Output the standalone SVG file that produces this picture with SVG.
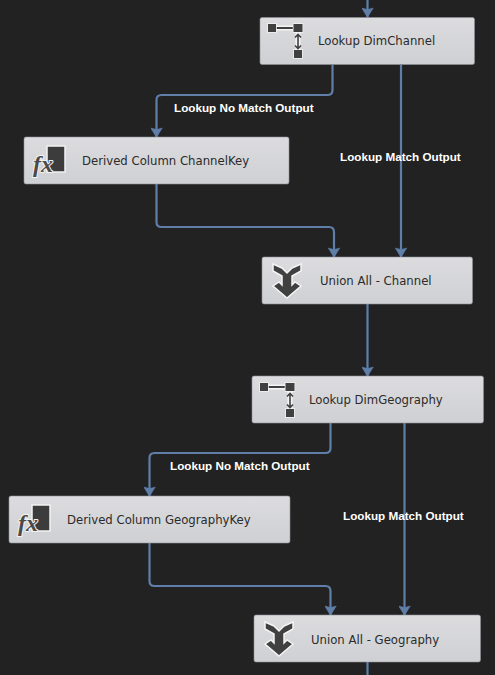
<svg xmlns="http://www.w3.org/2000/svg" xmlns:xlink="http://www.w3.org/1999/xlink" width="495" height="675" viewBox="0 0 495 675">
<style>
.box{fill:url(#g);stroke:#8f9298;stroke-width:.6}
.t{font:11.7px "DejaVu Sans",sans-serif;fill:#2b2b2b}
.l{font:bold 11.7px "Liberation Sans",sans-serif;fill:#fff}
.c{fill:none;stroke:#5f7ea8;stroke-width:2.200}
.i{fill:#404040;stroke:#f4f4f4;stroke-width:1.500;paint-order:stroke}
</style>
<defs>
<linearGradient id="g" x1="0" y1="0" x2="0" y2="1"><stop offset="0" stop-color="#dcdcdf"/><stop offset="1" stop-color="#cfd0d3"/></linearGradient>
<marker id="ad" markerUnits="userSpaceOnUse" markerWidth="12" markerHeight="12" refX="11" refY="6" orient="auto" viewBox="0 0 12 12"><path d="M2 .2 L11.500 6 L2 11.800 L3.500 6 Z" fill="#5f7ea8" stroke="#5f7ea8" stroke-width=".5"/></marker>
<g id="lk">
<path d="M5 7H31M31 7V37M27.500 33H34.500" fill="none" stroke="#f4f4f4" stroke-width="5"/>
<path d="M5 7H31" stroke="#404040" stroke-width="2"/>
<rect x="1" y="3" width="8" height="8" class="i"/><rect x="26.500" y="3" width="9" height="8" class="i"/><rect x="27" y="29" width="8" height="8" class="i"/>
<path d="M31 14V27M28 16.500L31 13.500L34 16.500M28 24.500L31 27.500L34 24.500" fill="none" stroke="#404040" stroke-width="1.600"/>
</g>
<g id="fx">
<rect x="23" y="9" width="18" height="26" fill="#3c3c3c" stroke="#f2f2f2" stroke-width="1.500"/>
<text x="9" y="35" font-family="Liberation Serif,serif" font-style="italic" font-weight="bold" font-size="24" fill="#4a4a4a" stroke="#f2f2f2" stroke-width="2" paint-order="stroke">fx</text>
</g>
<g id="un">
<path d="M1 2L10 6L15 11L20 6L29 2V9L20 14V23L23 20L29 24L15 36L1 24L7 20L10 23V14L1 9Z" fill="#404040" stroke="#f4f4f4" stroke-width="1.500"/>
</g>
</defs>
<rect width="495" height="675" fill="#222222"/>
<g id="connectors">
<path class="c" d="M367.500 0V17" marker-end="url(#ad)"/>
<path class="c" d="M332.500 65V90Q332.500 95 327.500 95H161.500Q156.500 95 156.500 100V137" marker-end="url(#ad)"/>
<path class="c" d="M401 65V257" marker-end="url(#ad)"/>
<path class="c" d="M156.500 184V222Q156.500 227 161.500 227H329Q334 227 334 232V257" marker-end="url(#ad)"/>
<path class="c" d="M367.500 304V376" marker-end="url(#ad)"/>
<path class="c" d="M330.500 423V448Q330.500 453 325.500 453H154.500Q149.500 453 149.500 458V496" marker-end="url(#ad)"/>
<path class="c" d="M404.500 423V615" marker-end="url(#ad)"/>
<path class="c" d="M149.500 543V581Q149.500 586 154.500 586H325.500Q330.500 586 330.500 591V615" marker-end="url(#ad)"/>
<path class="c" d="M367.500 662V675"/>
</g>
<g id="labels">
<text class="l" x="174" y="112">Lookup No Match Output</text>
<text class="l" x="340" y="161">Lookup Match Output</text>
<text class="l" x="170" y="470">Lookup No Match Output</text>
<text class="l" x="343" y="520">Lookup Match Output</text>
</g>
<g id="lookup-dimchannel"><rect class="box" x="260" y="17.500" width="214.500" height="47" rx="2"/><use xlink:href="#lk" href="#lk" x="267" y="21"/><text class="t" x="318" y="45">Lookup DimChannel</text></g>
<g id="derived-channelkey"><rect class="box" x="24" y="137" width="265" height="47" rx="2"/><use xlink:href="#fx" href="#fx" x="24" y="137"/><text class="t" x="82" y="165">Derived Column ChannelKey</text></g>
<g id="union-channel"><rect class="box" x="262" y="257" width="210.500" height="47" rx="2"/><use xlink:href="#un" href="#un" x="272" y="262"/><text class="t" x="320" y="285">Union All - Channel</text></g>
<g id="lookup-dimgeography"><rect class="box" x="252" y="376" width="231.500" height="47" rx="2"/><use xlink:href="#lk" href="#lk" x="259" y="380"/><text class="t" x="309" y="404">Lookup DimGeography</text></g>
<g id="derived-geographykey"><rect class="box" x="9" y="496" width="281" height="47" rx="2"/><use xlink:href="#fx" href="#fx" x="9" y="496"/><text class="t" x="67" y="524">Derived Column GeographyKey</text></g>
<g id="union-geography"><rect class="box" x="254" y="615" width="226.500" height="47" rx="2"/><use xlink:href="#un" href="#un" x="264" y="620"/><text class="t" x="311" y="644">Union All - Geography</text></g>
</svg>
